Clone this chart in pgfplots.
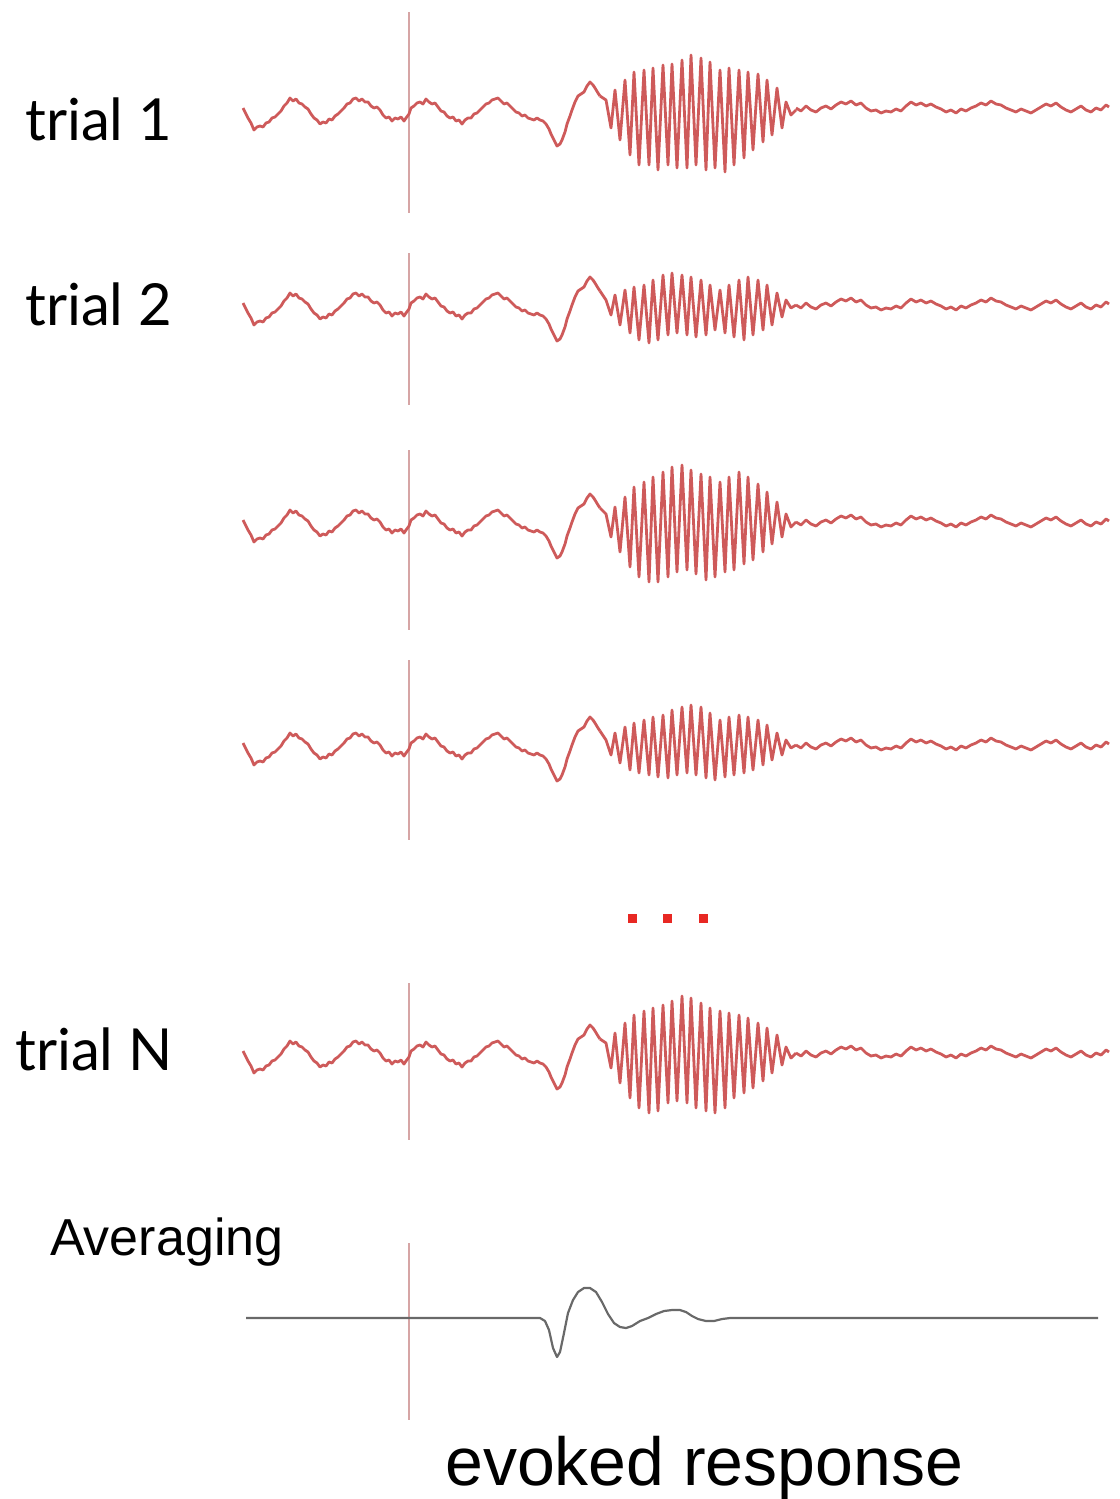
\documentclass[border=0pt]{standalone}
\usepackage{pgfplots}
\pgfplotsset{compat=1.18}
\usepackage{pgfplotstable}
\usepackage{fontspec}
\setmainfont{Liberation Sans}
\newfontfamily\gill{Lato}
\definecolor{trace}{RGB}{206,90,90}
\definecolor{stim}{RGB}{214,165,165}
\definecolor{avg}{RGB}{105,105,105}
\definecolor{dots}{RGB}{232,40,35}

% deviations in pixels (positive = up)
\pgfplotstableread{
x d
243 2
246 -4
248 -8
251 -13
254 -20
257 -17
260 -16
263 -17
266 -13
269 -12
272 -8
275 -7
278 -4
281 -1
284 4
287 7
290 12
293 9
296 11
299 7
302 6
305 3
308 1
311 -4
314 -8
317 -10
320 -14
323 -12
326 -13
329 -9
332 -10
335 -6
338 -4
341 -1
344 2
347 6
350 7
353 11
356 12
359 9
362 11
365 8
368 8
371 4
374 2
377 3
380 0
383 -5
386 -8
389 -7
392 -11
395 -8
398 -9
401 -7
404 -11
406 -8
409 -4
411 2
414 4
417 7
420 8
423 6
426 11
429 8
432 6
435 7
438 3
441 -1
444 -2
447 -6
450 -8
453 -7
456 -11
459 -10
462 -14
465 -10
468 -8
471 -8
474 -4
477 -3
480 0
483 3
486 6
489 7
492 10
495 11
498 12
501 9
504 6
507 7
510 4
513 1
516 -2
519 -3
522 -6
525 -5
528 -8
531 -9
534 -10
537 -8
540 -10
543 -11
546 -14
549 -19
551 -24
554 -30
557 -36
560 -34
562 -30
565 -22
567 -14
570 -6
572 0
575 8
578 14
581 16
584 18
587 24
590 28
593 25
595 22
598 17
600 14
}\pre

\pgfplotstableread{
x t1 t2 t3 t4 tn
600 14 14 14 14 14
606 10 5 8 5 10
611 -18 -10 -15 -10 -15
615 20 10 15 12 20
620 -30 -20 -30 -18 -30
625 30 15 25 18 30
630 -45 -28 -45 -25 -45
634 38 18 35 22 38
639 -55 -35 -55 -28 -55
644 40 20 40 25 42
649 -55 -38 -60 -30 -60
653 42 25 45 28 45
658 -60 -35 -60 -32 -58
663 45 30 50 30 48
668 -55 -30 -55 -33 -50
672 46 32 55 35 52
677 -58 -28 -50 -30 -48
682 50 30 57 38 57
687 -58 -30 -48 -28 -50
691 55 28 52 40 55
696 -55 -32 -52 -30 -55
701 52 25 48 38 50
706 -60 -30 -58 -33 -58
710 48 20 45 32 45
715 -58 -25 -55 -35 -60
720 40 15 40 25 42
725 -62 -28 -50 -32 -55
729 42 20 45 28 40
734 -55 -32 -48 -30 -45
739 40 25 50 30 38
744 -48 -35 -42 -28 -40
748 38 28 45 28 35
753 -40 -30 -38 -25 -35
758 36 25 38 25 30
763 -32 -25 -30 -20 -28
767 30 20 30 20 25
772 -25 -20 -22 -15 -20
777 22 12 20 12 18
782 -18 -12 -15 -10 -12
786 8 5 8 5 6
791 -5 -3 -5 -3 -5
796 0 0 0 0 0
}\burst

\pgfplotstableread{
x d
796 0
801 -3
806 2
811 -2
816 -4
821 0
826 2
831 -1
836 3
841 6
846 4
851 7
856 3
861 5
866 0
871 -3
876 -2
881 -5
886 -3
891 -4
896 -1
901 -3
906 2
911 6
916 3
921 5
926 2
931 4
936 1
941 -1
946 -4
951 -2
956 -5
961 -1
966 -3
971 0
976 2
981 5
986 3
991 7
996 4
1001 3
1006 0
1011 -2
1016 -4
1021 -1
1026 -3
1031 -5
1036 -2
1041 1
1046 4
1051 2
1056 5
1061 1
1066 -2
1071 -4
1076 -1
1081 2
1086 -2
1091 -4
1096 0
1101 -2
1106 3
1109 1
}\post

\pgfplotstableread{
x d
246 0
540 0
545 -3
549 -12
553 -30
557 -39
560 -34
564 -15
568 5
573 18
578 26
584 30
590 30
596 26
602 16
608 4
614 -5
620 -9
626 -10
632 -8
640 -3
648 0
656 4
664 7
672 8
680 8
686 6
692 2
698 -1
706 -3
714 -3
722 -1
730 0
1098 0
}\avgtab

\begin{document}
\begin{tikzpicture}
\useasboundingbox (0,0) rectangle (1119pt,1499pt);
\begin{axis}[at={(0,0)}, anchor=south west, scale only axis,
  width=1119pt, height=1499pt,
  xmin=0, xmax=1119, ymin=0, ymax=1499, y dir=reverse,
  axis lines=none, clip=false,
  tr/.style={color=trace, line width=2.8pt, line join=round, no markers},
  st/.style={color=stim, line width=1.6pt, no markers}]

% stimulus onset lines
\addplot[st] coordinates {(409,12) (409,213)};
\addplot[st] coordinates {(409,253) (409,405)};
\addplot[st] coordinates {(409,450) (409,630)};
\addplot[st] coordinates {(409,660) (409,840)};
\addplot[st] coordinates {(409,983) (409,1140)};
\addplot[st] coordinates {(409,1243) (409,1420)};

% trial 1
\addplot[tr] table[x=x, y expr=110-\thisrow{d}] {\pre};
\addplot[tr] table[x=x, y expr=110-\thisrow{t1}] {\burst};
\addplot[tr] table[x=x, y expr=108-\thisrow{d}] {\post};
% trial 2
\addplot[tr] table[x=x, y expr=305-\thisrow{d}] {\pre};
\addplot[tr] table[x=x, y expr=305-\thisrow{t2}] {\burst};
\addplot[tr] table[x=x, y expr=305-\thisrow{d}] {\post};
% trial 3
\addplot[tr] table[x=x, y expr=522-\thisrow{d}] {\pre};
\addplot[tr] table[x=x, y expr=522-\thisrow{t3}] {\burst};
\addplot[tr] table[x=x, y expr=522-\thisrow{d}] {\post};
% trial 4
\addplot[tr] table[x=x, y expr=745-\thisrow{d}] {\pre};
\addplot[tr] table[x=x, y expr=745-\thisrow{t4}] {\burst};
\addplot[tr] table[x=x, y expr=745-\thisrow{d}] {\post};
% trial N
\addplot[tr] table[x=x, y expr=1053-\thisrow{d}] {\pre};
\addplot[tr] table[x=x, y expr=1053-\thisrow{tn}] {\burst};
\addplot[tr] table[x=x, y expr=1053-\thisrow{d}] {\post};

% average
\addplot[color=avg, line width=2.2pt, line join=round, no markers] table[x=x, y expr=1318-\thisrow{d}] {\avgtab};

% dots
\addplot[only marks, mark=square*, mark size=4pt, color=dots] coordinates {(632,918) (667,918) (703,918)};

\node[anchor=base west, inner sep=0pt, font=\gill\fontsize{58}{60}\selectfont] at (axis cs:25,140) {trial 1};
\node[anchor=base west, inner sep=0pt, font=\gill\fontsize{58}{60}\selectfont] at (axis cs:25,325) {trial 2};
\node[anchor=base west, inner sep=0pt, font=\gill\fontsize{58}{60}\selectfont] at (axis cs:15,1070) {trial N};
\node[anchor=base west, inner sep=0pt, font=\fontsize{52}{56}\selectfont] at (axis cs:50,1255) {Averaging};
\node[anchor=base west, inner sep=0pt, font=\fontsize{68}{72}\selectfont] at (axis cs:445,1485) {evoked response};
\end{axis}
\end{tikzpicture}
\end{document}
